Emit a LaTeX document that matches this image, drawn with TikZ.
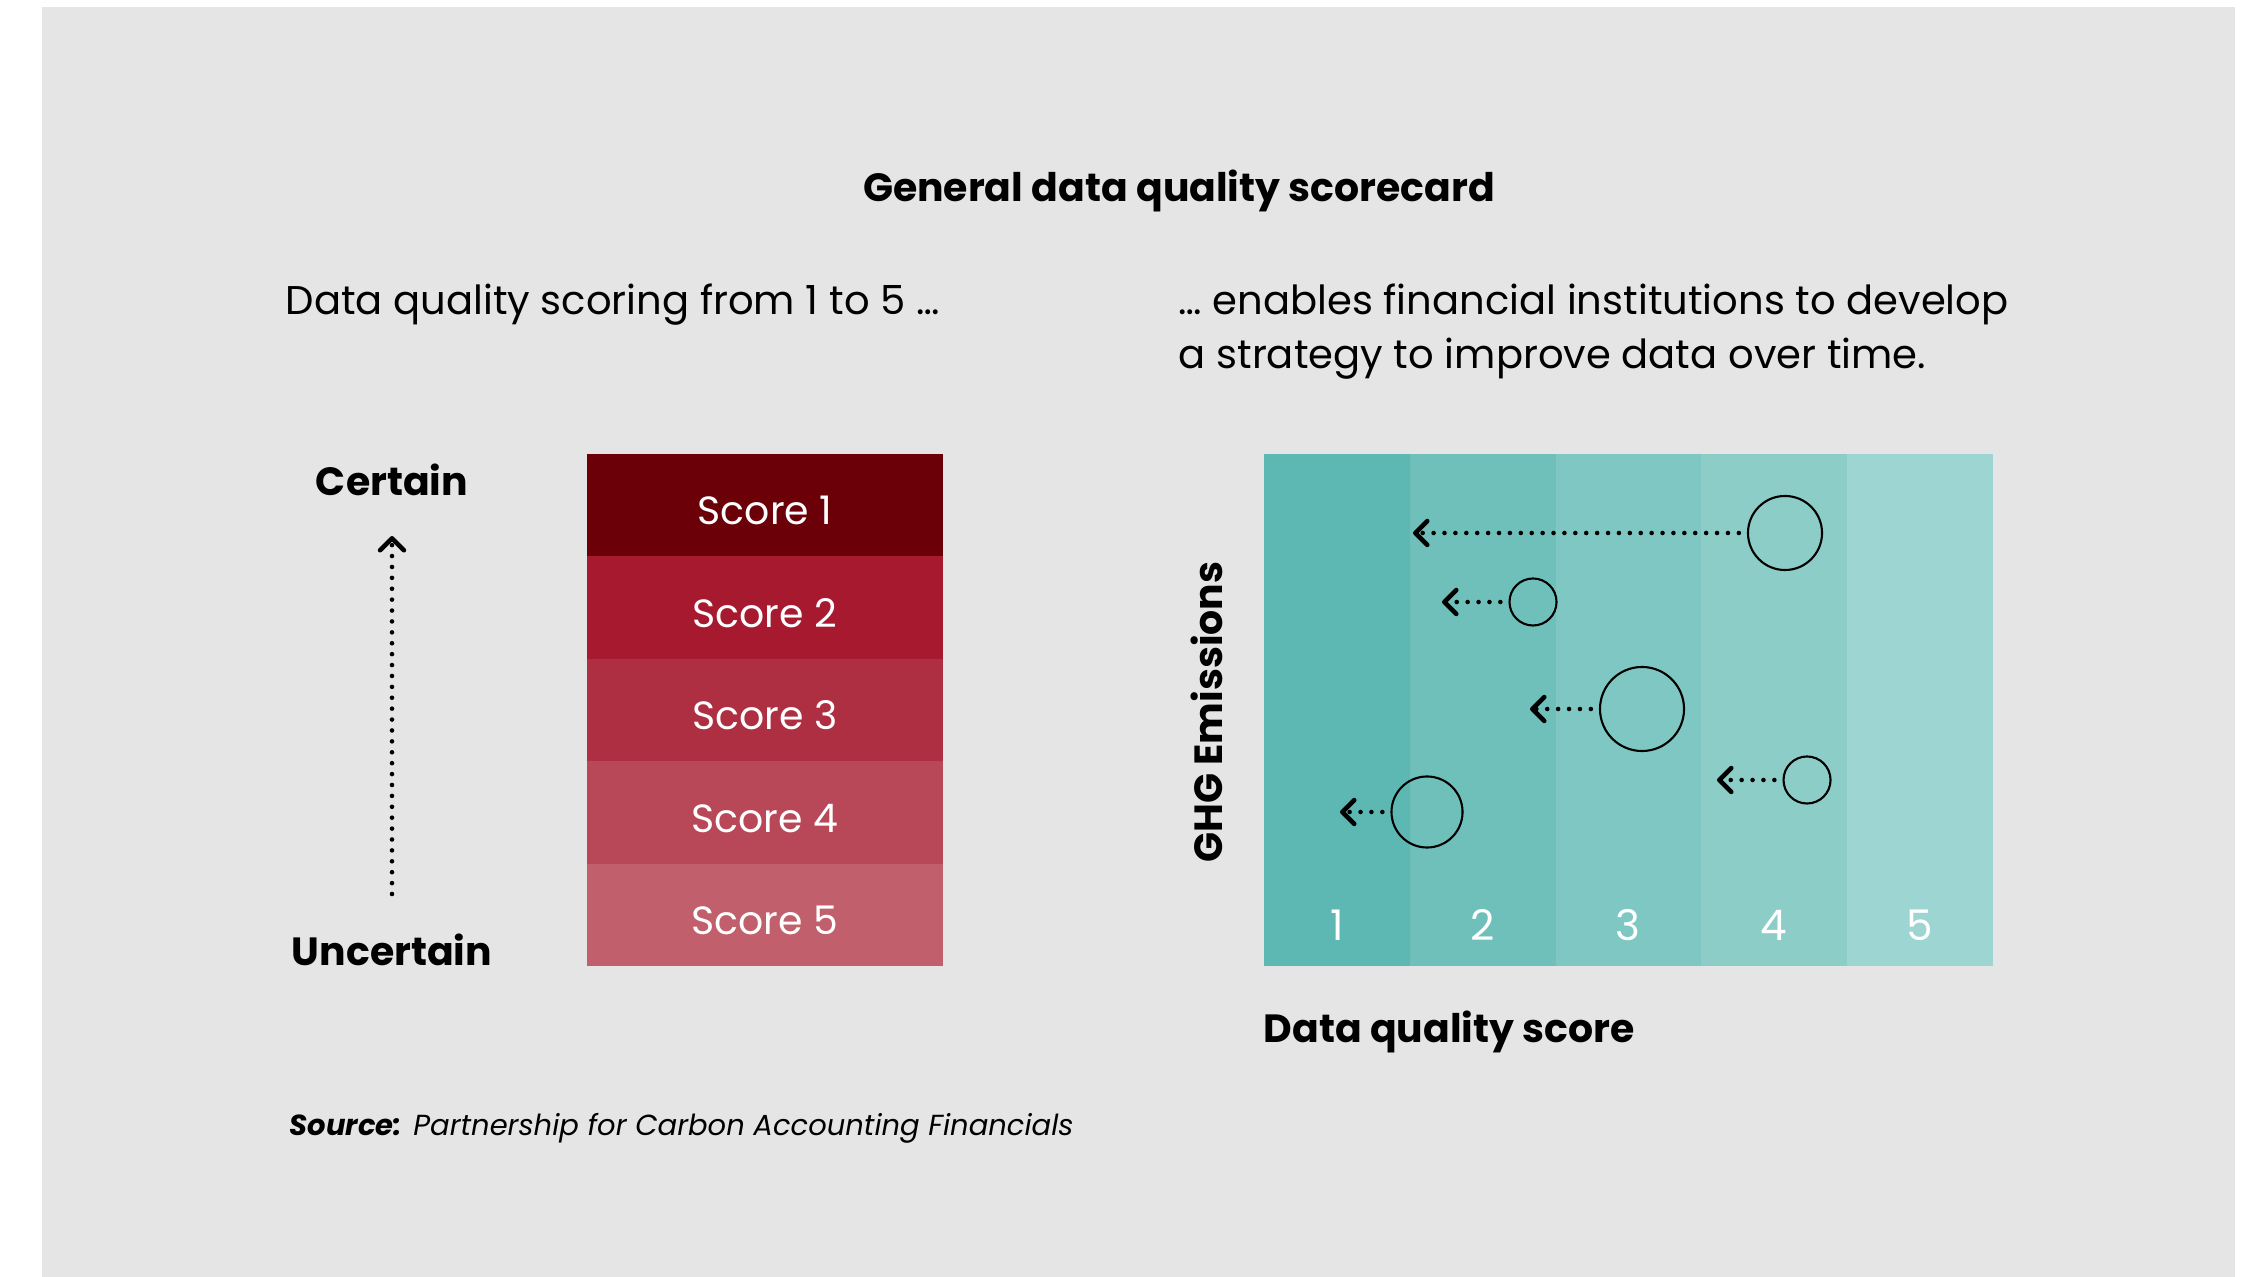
\documentclass[tikz,border=0pt]{standalone}
\usepackage{fontspec}
\setmainfont{Poppins}
\usetikzlibrary{arrows.meta,positioning}
\definecolor{panelgrey}{HTML}{E5E5E5}
\definecolor{scoreA}{HTML}{6B0009}
\definecolor{scoreB}{HTML}{A6192E}
\definecolor{scoreC}{HTML}{AE2E42}
\definecolor{scoreD}{HTML}{B84858}
\definecolor{scoreE}{HTML}{C15F6C}
\definecolor{tealA}{HTML}{5DB8B3}
\definecolor{tealB}{HTML}{6FC0BB}
\definecolor{tealC}{HTML}{7FC7C2}
\definecolor{tealD}{HTML}{8CCDC8}
\definecolor{tealE}{HTML}{9DD5D2}

\begin{document}
\begin{tikzpicture}[x=0.01cm,y=-0.01cm,
    txt/.style={inner sep=0pt,font=\fontsize{11.4}{15.4}\selectfont},
    hd/.style={inner sep=0pt,font=\fontsize{11.2}{13}\bfseries},
    scorebox/.style={minimum width=3.56cm,minimum height=1.024cm,inner sep=0pt,outer sep=0pt,
                     text height=11.2pt,text depth=0pt,
                     text=white,font=\fontsize{11.2}{13}\selectfont},
    band/.style={minimum width=1.456cm,minimum height=5.12cm,inner sep=0pt,outer sep=0pt},
    num/.style={text=white,inner sep=0pt,font=\fontsize{12}{14}\selectfont},
    blob/.style={circle,draw,line width=0.6pt,inner sep=0pt},
    dotarr/.style={line width=1.3pt,line cap=round,dash pattern=on 0pt off 3.1pt,
                   -{Straight Barb[length=3.4pt,width=6.8pt,line cap=round,line join=round]},
                   shorten <=2.3pt}]
  \useasboundingbox (0,0) rectangle (2258,1277);
  \fill[panelgrey] (42,7) rectangle (2235,1277);

  % headings
  \node[hd] (title) at (1179,191) {General data quality scorecard};
  \node[txt,anchor=base west] (left) at (285,315) {Data quality scoring from 1 to 5 …};
  \node[txt,anchor=base west,align=left] (right) at (1178,369)
    {… enables financial institutions to develop\\a strategy to improve data over time.};

  % score stack
  \node[scorebox,fill=scoreA] (s1) at (765,505) {Score 1};
  \node[scorebox,fill=scoreB,below=0pt of s1] (s2) {Score 2};
  \node[scorebox,fill=scoreC,below=0pt of s2] (s3) {Score 3};
  \node[scorebox,fill=scoreD,below=0pt of s3] (s4) {Score 4};
  \node[scorebox,fill=scoreE,below=0pt of s4] (s5) {Score 5};

  % certainty axis
  \node[hd] (cert) at (392,480) {Certain};
  \node[hd] (unc) at (392,950) {Uncertain};
  \coordinate (ub) at (392,894);
  \coordinate (ut) at (392,536);
  \draw[dotarr,shorten <=0pt] (ub) -- (ut);

  % score bands
  \node[band,fill=tealA] (b1) at (1337,710) {};
  \node[band,fill=tealB,right=0pt of b1] (b2) {};
  \node[band,fill=tealC,right=0pt of b2] (b3) {};
  \node[band,fill=tealD,right=0pt of b3] (b4) {};
  \node[band,fill=tealE,right=0pt of b4] (b5) {};
  \foreach \i in {1,...,5}
    \node[num] (n\i) at ([yshift=0.41cm]b\i.south) {\i};

  \node[hd,rotate=90] (ghg) at (1207,712) {GHG Emissions};
  \node[hd,anchor=west] (dqs) at (1263,1032) {Data quality score};

  % emission positions and moves
  \node[blob,minimum size=0.74cm] (e1) at (1785,533) {};
  \node[blob,minimum size=0.47cm] (e2) at (1533,602) {};
  \node[blob,minimum size=0.84cm] (e3) at (1642,709) {};
  \node[blob,minimum size=0.47cm] (e4) at (1807,780) {};
  \node[blob,minimum size=0.71cm] (e5) at (1427,812) {};
  \coordinate (t1) at (1413,533);
  \coordinate (t2) at (1442,602);
  \coordinate (t3) at (1530,709);
  \coordinate (t4) at (1717,780);
  \coordinate (t5) at (1340,812);
  \foreach \i in {1,...,5}
    \draw[dotarr] (e\i) -- (t\i);

  \node[txt,anchor=west,font=\fontsize{8.25}{10}\selectfont\itshape] (src) at (289,1128)
    {\textbf{Source:} Partnership for Carbon Accounting Financials};
\end{tikzpicture}
\end{document}
